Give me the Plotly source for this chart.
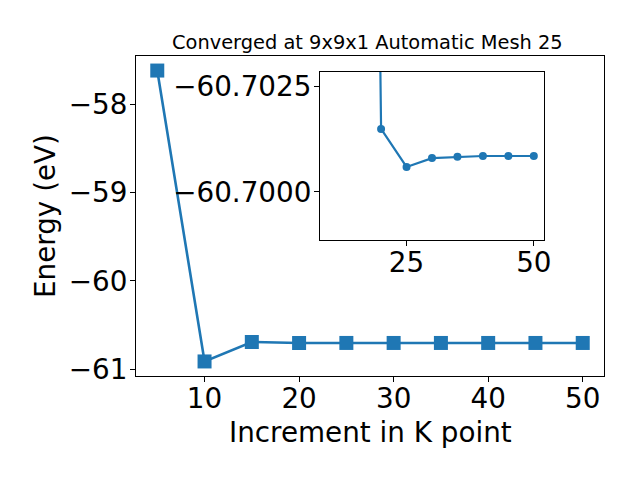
import plotly.graph_objects as go

# Main data
k_points = [5, 10, 15, 20, 25, 30, 35, 40, 45, 50]
energy = [-57.62, -60.91, -60.69, -60.7015, -60.7006, -60.7008, -60.70083, -60.70085, -60.70085, -60.70085]

# Inset data (zoomed view)
inset_k = [10, 15, 20, 25, 30, 35, 40, 45, 50]
inset_energy = [-60.91, -60.75, -60.70149, -60.70059, -60.70080, -60.70083, -60.70085, -60.70085, -60.70085]

main_xticks = [10, 20, 30, 40, 50]
main_yticks = [-61, -60, -59, -58]
inset_xticks = [25, 50]
inset_yticks = [-60.7025, -60.7000]

title_text = "Converged at 9x9x1 Automatic Mesh 25"
xlabel = "Increment in K point"
ylabel = "Energy (eV)"

blue = "#1f77b4"
FONT = "DejaVu Sans"
FS = 27.8

# page body has an 8px margin; figure is sized to fit inside the window
OFF = 8
W, H = 640 - 2 * OFF, 480 - 2 * OFF


def px(x):
    return (x - OFF) / W


def py(y):
    return 1 - (y - OFF) / H


fig = go.Figure()
fig.add_trace(go.Scatter(x=k_points, y=energy, mode="lines+markers",
                         line=dict(color=blue, width=2.6),
                         marker=dict(symbol="square", size=14, color=blue),
                         xaxis="x", yaxis="y", showlegend=False))
fig.add_trace(go.Scatter(x=inset_k, y=inset_energy, mode="lines+markers",
                         line=dict(color=blue, width=2.2),
                         marker=dict(symbol="circle", size=8, color=blue),
                         xaxis="x2", yaxis="y2", showlegend=False))

axis_common = dict(showline=True, linecolor="black", linewidth=1, mirror=True,
                   ticks="outside", ticklen=5, tickwidth=1, tickcolor="black",
                   showgrid=False, zeroline=False, automargin=False,
                   tickfont=dict(family=FONT, size=FS, color="black"))

fig.update_layout(
    width=W, height=H,
    margin=dict(l=0, r=0, t=0, b=0),
    paper_bgcolor="white", plot_bgcolor="white",
    template="none",
    xaxis=dict(domain=[px(136), px(604)], range=[2.75, 52.25], tickvals=main_xticks,
               anchor="y", ticklabelstandoff=-7, **axis_common),
    yaxis=dict(domain=[py(376), py(56)], range=[-61.0745, -57.4555], tickvals=main_yticks,
               anchor="x", ticklabelstandoff=-3, **axis_common),
    xaxis2=dict(domain=[px(320), px(544)], range=[8, 52], tickvals=inset_xticks,
                anchor="y2", ticklabelstandoff=-7, **axis_common),
    yaxis2=dict(domain=[py(240), py(72)], range=[-60.69886, -60.70284], tickvals=inset_yticks,
                tickformat=".4f", anchor="x2", ticklabelstandoff=-3, **axis_common),
    annotations=[
        dict(text=title_text, x=px(368), y=py(42), xref="paper", yref="paper",
             showarrow=False, font=dict(family=FONT, size=19.4, color="black"),
             xanchor="center", yanchor="middle"),
        dict(text=xlabel, x=px(370), y=py(432), xref="paper", yref="paper",
             showarrow=False, font=dict(family=FONT, size=FS, color="black"),
             xanchor="center", yanchor="middle"),
        dict(text=ylabel, x=px(45), y=py(216), xref="paper", yref="paper",
             showarrow=False, textangle=-90, font=dict(family=FONT, size=FS, color="black"),
             xanchor="center", yanchor="middle"),
    ],
)

fig.write_html("out.html")
